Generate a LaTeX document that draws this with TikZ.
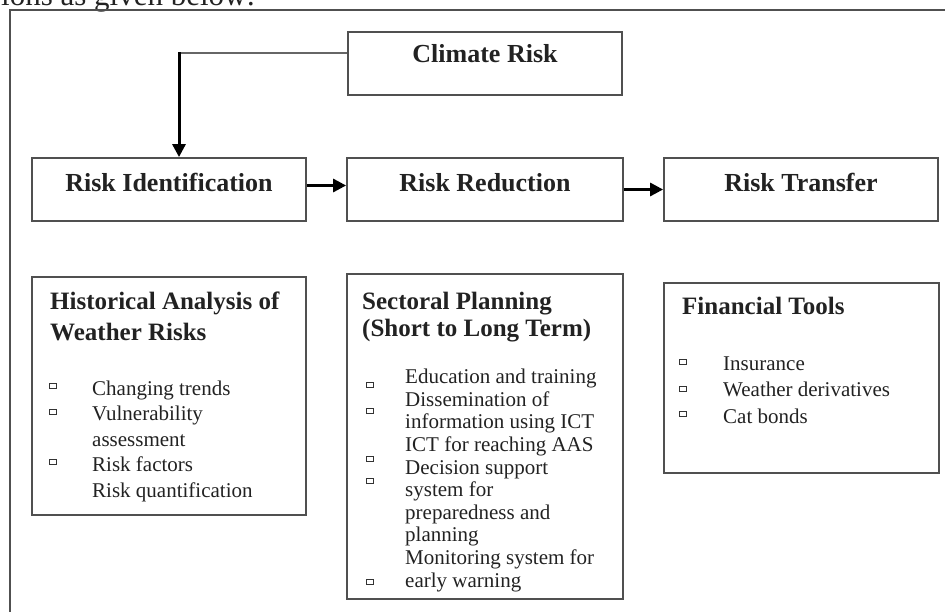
\documentclass[tikz,border=0pt]{standalone}
\usepackage{fontspec}
\setmainfont{Liberation Serif}
\usetikzlibrary{arrows.meta}

\definecolor{boxgray}{HTML}{505050}
\definecolor{linkgray}{HTML}{666666}
\definecolor{inkgray}{HTML}{222222}

\begin{document}
\begin{tikzpicture}[x=1pt, y=-1pt, every node/.style={inner sep=0pt, text=inkgray},
	headbox/.style={draw=boxgray, line width=1.8pt, minimum width=274pt, minimum height=63pt, font=\fontsize{26}{30}\selectfont\bfseries, text height=17pt, text depth=12pt},
	listbox/.style={draw=boxgray, line width=1.8pt, minimum width=275pt},
	listhead/.style={anchor=base west, align=left, font=\fontsize{25}{31}\selectfont\bfseries},
	listitems/.style={anchor=base west, align=left, font=\fontsize{21}{25.5}\selectfont},
	bullet/.style={draw=black!80, line width=1.1pt, minimum width=7pt, minimum height=5.5pt},
	flow/.style={line width=3pt, black, -{Triangle[length=13pt, width=13pt]}}]
	\useasboundingbox (0,0) rectangle (945,612);
	% Page text and frame
	\node[anchor=base west, font=\fontsize{31}{36}\selectfont] (lead) at (1,5.5) {ions as given below:};
	\draw[boxgray, line width=1.8pt] (10,612) -- (10,10) -- (945,10);
	% Header boxes
	\node[headbox, text height=18pt, text depth=19pt] (clim) at (485,63.5) {Climate Risk};
	\node[headbox] (ident) at (169,189.5) {Risk Identification};
	\node[headbox, minimum width=276pt] (reduc) at (485,189.5) {Risk Reduction};
	\node[headbox] (trans) at (801,189.5) {Risk Transfer};
	% Detail boxes
	\node[listbox, minimum width=274pt, minimum height=238pt] (hist) at (169,396) {};
	\node[listbox, minimum width=276pt, minimum height=325pt] (sect) at (485,436.5) {};
	\node[listbox, minimum height=190pt] (fin) at (801.5,378) {};
	% Detail texts (placed at the baseline of their last line)
	\node[listhead] (histhead) at (50,341) {Historical Analysis of\\Weather Risks};
	\node[listitems] (histitems) at (92,497) {Changing trends\\Vulnerability\\assessment\\Risk factors\\Risk quantification};
	\node[listhead, font=\fontsize{25}{27}\selectfont\bfseries] (secthead) at (362,337) {Sectoral Planning\\(Short to Long Term)};
	\node[listitems, font=\fontsize{21}{22.6}\selectfont] (sectitems) at (405,587) {Education and training\\Dissemination of\\information using ICT\\ICT for reaching AAS\\Decision support\\system for\\preparedness and\\planning\\Monitoring system for\\early warning};
	\node[listhead] (finhead) at (682,315) {Financial Tools};
	\node[listitems, font=\fontsize{21}{26.5}\selectfont] (finitems) at (723,423) {Insurance\\Weather derivatives\\Cat bonds};
	% Bullets
	\foreach \y [count=\i] in {386,412,462}
		\node[bullet] (hb\i) at (53,\y) {};
	\foreach \y [count=\i] in {385,411,459,481,582}
		\node[bullet] (sb\i) at (370,\y) {};
	\foreach \y [count=\i] in {362,389,414}
		\node[bullet] (fb\i) at (683,\y) {};
	% Arrows
	\coordinate (bend) at (179,53.5);
	\draw[linkgray, line width=2pt] ([yshift=10pt]clim.west) -- (bend);
	\draw[flow] ([yshift=1pt]bend) -- (bend |- ident.north);
	\draw[flow] ([yshift=4pt]ident.east) -- ([yshift=4pt]reduc.west);
	\draw[flow] (reduc.east) -- (trans.west);
\end{tikzpicture}
\end{document}
